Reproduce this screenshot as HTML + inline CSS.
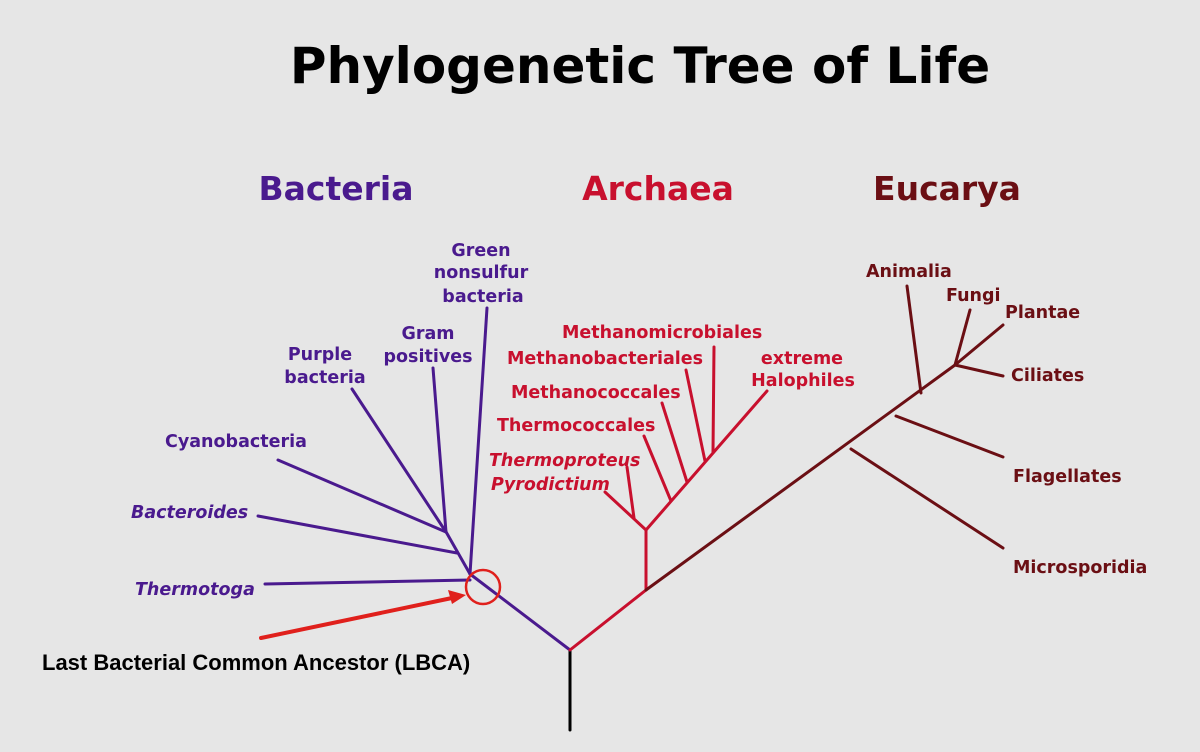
<!DOCTYPE html>
<html><head><meta charset="utf-8"><style>
html,body{margin:0;padding:0;background:#e6e6e6;}
svg{display:block}
text{font-family:"DejaVu Sans","Liberation Sans",sans-serif;font-weight:bold}
.p{fill:#4a1a8e;font-size:17.5px}
.r{fill:#c8102e;font-size:17.5px}
.d{fill:#6b0f14;font-size:17.5px}
</style></head><body>
<svg width="1200" height="752" viewBox="0 0 1200 752">
<rect width="1200" height="752" fill="#e6e6e6"/>
<text x="640" y="83" text-anchor="middle" font-size="50" fill="#000">Phylogenetic Tree of Life</text>
<text x="336" y="200" text-anchor="middle" font-size="33" fill="#4a1a8e">Bacteria</text>
<text x="658" y="200" text-anchor="middle" font-size="33" fill="#c8102e">Archaea</text>
<text x="947" y="200" text-anchor="middle" font-size="33" fill="#6b0f14">Eucarya</text>

<g stroke-width="3" fill="none" stroke-linecap="round">
<line x1="570" y1="730" x2="570" y2="650" stroke="#000"/>
<g stroke="#4a1a8e">
<line x1="570" y1="650" x2="470" y2="574"/>
<line x1="470" y1="574" x2="445" y2="530"/>
<line x1="470" y1="574" x2="487" y2="308"/>
<line x1="470" y1="580" x2="265" y2="584"/>
<line x1="457" y1="553" x2="258" y2="516"/>
<line x1="446" y1="532" x2="278" y2="460"/>
<line x1="446" y1="532" x2="352" y2="389"/>
<line x1="446" y1="532" x2="433" y2="368"/>
</g>
<g stroke="#c8102e">
<line x1="570" y1="650" x2="646" y2="590"/>
<line x1="646" y1="590" x2="646" y2="530"/>
<line x1="646" y1="530" x2="605" y2="492"/>
<line x1="634" y1="518" x2="627" y2="467"/>
<line x1="646" y1="530" x2="767" y2="391"/>
<line x1="671" y1="501" x2="644" y2="436"/>
<line x1="687" y1="482" x2="662" y2="403"/>
<line x1="705" y1="461" x2="686" y2="370"/>
<line x1="713" y1="452" x2="714" y2="347"/>
</g>
<g stroke="#6b0f14">
<line x1="646" y1="590" x2="955" y2="365"/>
<line x1="851" y1="449" x2="1003" y2="548"/>
<line x1="896" y1="416" x2="1003" y2="457"/>
<line x1="921" y1="393" x2="907" y2="286"/>
<line x1="955" y1="365" x2="970" y2="310"/>
<line x1="955" y1="365" x2="1003" y2="325"/>
<line x1="955" y1="365" x2="1003" y2="376"/>
</g>
<circle cx="483" cy="587" r="17" stroke="#e0201c" stroke-width="2.5"/>
<line x1="261" y1="638" x2="452" y2="598" stroke="#e0201c" stroke-width="4"/>
</g>
<polygon points="466,595 448,590 452,604" fill="#e0201c"/>

<text class="p" x="481" y="256" text-anchor="middle">Green</text>
<text class="p" x="481" y="278" text-anchor="middle">nonsulfur</text>
<text class="p" x="483" y="302" text-anchor="middle">bacteria</text>
<text class="p" x="428" y="339" text-anchor="middle">Gram</text>
<text class="p" x="428" y="362" text-anchor="middle">positives</text>
<text class="p" x="320" y="360" text-anchor="middle">Purple</text>
<text class="p" x="325" y="383" text-anchor="middle">bacteria</text>
<text class="p" x="165" y="447">Cyanobacteria</text>
<text class="p" x="131" y="518" font-style="italic">Bacteroides</text>
<text class="p" x="135" y="595" font-style="italic">Thermotoga</text>

<text class="r" x="562" y="338">Methanomicrobiales</text>
<text class="r" x="507" y="364">Methanobacteriales</text>
<text class="r" x="511" y="398">Methanococcales</text>
<text class="r" x="497" y="431">Thermococcales</text>
<text class="r" x="489" y="466" font-style="italic">Thermoproteus</text>
<text class="r" x="491" y="490" font-style="italic">Pyrodictium</text>
<text class="r" x="802" y="364" text-anchor="middle">extreme</text>
<text class="r" x="803" y="386" text-anchor="middle">Halophiles</text>

<text class="d" x="866" y="277">Animalia</text>
<text class="d" x="946" y="301">Fungi</text>
<text class="d" x="1005" y="318">Plantae</text>
<text class="d" x="1011" y="381">Ciliates</text>
<text class="d" x="1013" y="482">Flagellates</text>
<text class="d" x="1013" y="573">Microsporidia</text>

<text x="42" y="670" font-size="22" fill="#000" style="font-family:'Liberation Sans',sans-serif">Last Bacterial Common Ancestor (LBCA)</text>
</svg>
</body></html>
